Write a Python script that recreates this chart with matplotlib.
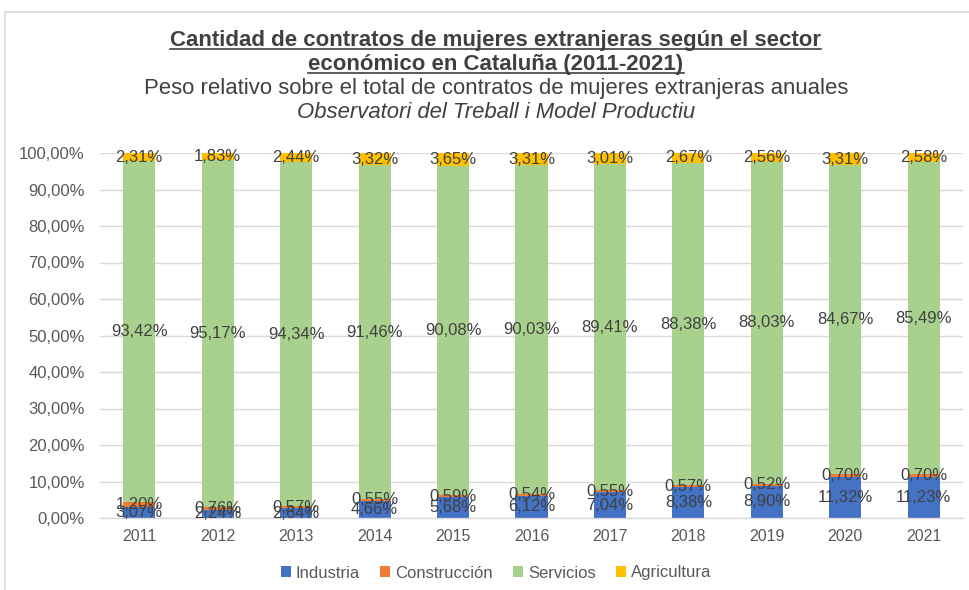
import matplotlib
matplotlib.use("Agg")
import matplotlib.pyplot as plt
from matplotlib.patches import Rectangle
from matplotlib.lines import Line2D
import numpy as np

plt.rcParams['font.family'] = ['Liberation Sans', 'DejaVu Sans']

years = ['2011', '2012', '2013', '2014', '2015', '2016', '2017', '2018', '2019', '2020', '2021']
industria = [3.07, 2.24, 2.64, 4.66, 5.68, 6.12, 7.04, 8.38, 8.90, 11.32, 11.23]
construccion = [1.20, 0.76, 0.57, 0.55, 0.59, 0.54, 0.55, 0.57, 0.52, 0.70, 0.70]
servicios = [93.42, 95.17, 94.34, 91.46, 90.08, 90.03, 89.41, 88.38, 88.03, 84.67, 85.49]
agricultura = [2.31, 1.83, 2.44, 3.32, 3.65, 3.31, 3.01, 2.67, 2.56, 3.31, 2.58]
series_names = ['Industria', 'Construcción', 'Servicios', 'Agricultura']
colors = ['#4472C4', '#ED7D31', '#A9D18E', '#FFC000']

title1 = 'Cantidad de contratos de mujeres extranjeras según el sector'
title2 = 'económico en Cataluña (2011-2021)'
subtitle = 'Peso relativo sobre el total de contratos de mujeres extranjeras anuales'
source = 'Observatori del Treball i Model Productiu'

W, H = 970, 590
fig = plt.figure(figsize=(W / 100, H / 100), dpi=100)
ax = fig.add_axes([100 / W, 1 - 518 / H, 863 / W, 365 / H])

x = np.arange(len(years))
bw = 0.41
data = [industria, construccion, servicios, agricultura]
bottom = np.zeros(len(years))
for vals, name, col in zip(data, series_names, colors):
    v = np.array(vals) / 100.0
    ax.bar(x, v, bw, bottom=bottom, color=col, label=name, zorder=2)
    for xi, b, vi in zip(x, bottom, v):
        ax.text(xi, b + vi / 2, f"{vi*100:.2f}%".replace('.', ','),
                ha='center', va='center', fontsize=12, color='#404040', zorder=4)
    bottom = bottom + v

ax.set_xlim(-0.5, len(years) - 0.5)
ax.set_ylim(0, 1.0)
yt = np.linspace(0, 1, 11)
ax.set_yticks(yt)
ax.set_yticklabels([f"{t*100:.2f}%".replace('.', ',') for t in yt], fontsize=12, color='#595959')
ax.set_xticks(x)
ax.set_xticklabels(years, fontsize=11.5, color='#595959')
ax.tick_params(axis='both', length=0)
ax.tick_params(axis='y', pad=11)
ax.tick_params(axis='x', pad=8)
ax.grid(axis='y', color='#D9D9D9', linewidth=1, zorder=0)
ax.set_axisbelow(True)
for s in ['top', 'right', 'left']:
    ax.spines[s].set_visible(False)
ax.spines['bottom'].set_color('#D9D9D9')
ax.spines['bottom'].set_linewidth(1)

cx = 496 / W
t1 = fig.text(cx, 1 - 46 / H, title1, ha='center', va='baseline', fontsize=16,
              fontweight='bold', color='#404040')
t2 = fig.text(cx, 1 - 70 / H, title2, ha='center', va='baseline', fontsize=16,
              fontweight='bold', color='#404040')
fig.text(cx, 1 - 94 / H, subtitle, ha='center', va='baseline', fontsize=15.9, color='#404040')
fig.text(cx, 1 - 118 / H, source, ha='center', va='baseline', fontsize=15.9,
         style='italic', color='#404040')

# underline titles
fig.canvas.draw()
r = fig.canvas.get_renderer()
for t, yl in ((t1, 49), (t2, 73)):
    bb = t.get_window_extent(renderer=r)
    fig.add_artist(Line2D([bb.x0 / W, bb.x1 / W], [1 - yl / H, 1 - yl / H],
                          transform=fig.transFigure, color='#404040', linewidth=1.2))

# chart border
fig.add_artist(Rectangle((5 / W, -0.1), 1.2, 1 - 12 / H + 0.1, transform=fig.transFigure,
                         fill=False, edgecolor='#D9D9D9', linewidth=1.2))

leg = fig.legend(loc='center', bbox_to_anchor=(cx, 1 - 573 / H), ncol=4, frameon=False,
                 fontsize=12, handlelength=0.6, handleheight=0.6, handletextpad=0.3,
                 columnspacing=1.2)
for txt in leg.get_texts():
    txt.set_color('#595959')

fig.savefig('out.png', dpi=100)
